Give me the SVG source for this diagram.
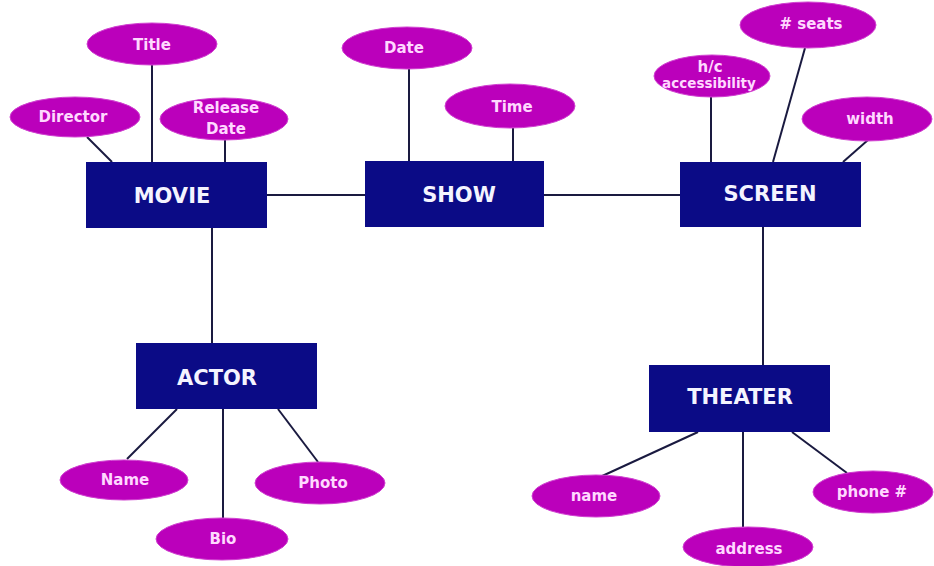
<svg xmlns="http://www.w3.org/2000/svg" width="934" height="566" viewBox="0 0 934 566">
<style>
.ent{fill:#0b0b86;}
.entt{fill:#f4f4ff;font-family:"DejaVu Sans","Liberation Sans",sans-serif;font-weight:bold;font-size:21px;text-anchor:middle;dominant-baseline:central;}
.att{fill:#bb00bb;stroke:#d040d0;stroke-width:1;}
.attt{fill:#ffd8ff;font-family:"DejaVu Sans","Liberation Sans",sans-serif;font-weight:bold;font-size:15px;text-anchor:middle;dominant-baseline:central;}
.c line{stroke:#1a1a40;stroke-width:2;}
</style>
<rect width="934" height="566" fill="#ffffff"/>
<g class="c" id="connectors">
<line x1="267" y1="195" x2="365" y2="195"/>
<line x1="544" y1="195" x2="680" y2="195"/>
<line x1="212" y1="228" x2="212" y2="343"/>
<line x1="763" y1="227" x2="763" y2="365"/>
<line x1="152" y1="65" x2="152" y2="162"/>
<line x1="225" y1="140" x2="225" y2="162"/>
<line x1="87" y1="137" x2="112" y2="162"/>
<line x1="409" y1="69" x2="409" y2="161"/>
<line x1="513" y1="128" x2="513" y2="161"/>
<line x1="711" y1="97" x2="711" y2="162"/>
<line x1="805" y1="48" x2="773" y2="162"/>
<line x1="868" y1="140" x2="843" y2="162"/>
<line x1="177" y1="409" x2="127" y2="459"/>
<line x1="223" y1="409" x2="223" y2="518"/>
<line x1="278" y1="409" x2="318" y2="462"/>
<line x1="698" y1="432" x2="600" y2="477"/>
<line x1="743" y1="432" x2="743" y2="527"/>
<line x1="792" y1="432" x2="847" y2="473"/>
</g>
<g id="movie"><rect class="ent" x="86" y="162" width="181" height="66"/><text class="entt" x="172" y="196">MOVIE</text></g>
<g id="show"><rect class="ent" x="365" y="161" width="179" height="66"/><text class="entt" x="459" y="195">SHOW</text></g>
<g id="screen"><rect class="ent" x="680" y="162" width="181" height="65"/><text class="entt" x="770" y="194">SCREEN</text></g>
<g id="actor"><rect class="ent" x="136" y="343" width="181" height="66"/><text class="entt" x="217" y="378">ACTOR</text></g>
<g id="theater"><rect class="ent" x="649" y="365" width="181" height="67"/><text class="entt" x="740" y="397">THEATER</text></g>
<g id="title"><ellipse class="att" cx="152" cy="44" rx="65" ry="21"/><text class="attt" x="152" y="45">Title</text></g>
<g id="director"><ellipse class="att" cx="75" cy="117" rx="65" ry="20"/><text class="attt" x="73" y="117">Director</text></g>
<g id="releasedate"><ellipse class="att" cx="224" cy="119" rx="64" ry="21"/><text class="attt" x="226" y="108">Release</text><text class="attt" x="226" y="129">Date</text></g>
<g id="date"><ellipse class="att" cx="407" cy="48" rx="65" ry="21"/><text class="attt" x="404" y="48">Date</text></g>
<g id="time"><ellipse class="att" cx="510" cy="106" rx="65" ry="22"/><text class="attt" x="512" y="107">Time</text></g>
<g id="hc"><ellipse class="att" cx="712" cy="76" rx="58" ry="21"/><text class="attt" x="710" y="67">h/c</text><text class="attt" style="font-size:13.5px" x="709" y="83">accessibility</text></g>
<g id="seats"><ellipse class="att" cx="808" cy="25" rx="68" ry="23"/><text class="attt" x="811" y="24"># seats</text></g>
<g id="width"><ellipse class="att" cx="867" cy="119" rx="65" ry="22"/><text class="attt" x="870" y="119">width</text></g>
<g id="name"><ellipse class="att" cx="124" cy="480" rx="64" ry="20"/><text class="attt" x="125" y="480">Name</text></g>
<g id="bio"><ellipse class="att" cx="222" cy="539" rx="66" ry="21"/><text class="attt" x="223" y="539">Bio</text></g>
<g id="photo"><ellipse class="att" cx="320" cy="483" rx="65" ry="21"/><text class="attt" x="323" y="483">Photo</text></g>
<g id="tname"><ellipse class="att" cx="596" cy="496" rx="64" ry="21"/><text class="attt" x="594" y="496">name</text></g>
<g id="address"><ellipse class="att" cx="748" cy="547" rx="65" ry="20"/><text class="attt" x="749" y="549">address</text></g>
<g id="phone"><ellipse class="att" cx="873" cy="492" rx="60" ry="21"/><text class="attt" x="872" y="492">phone #</text></g>
</svg>
